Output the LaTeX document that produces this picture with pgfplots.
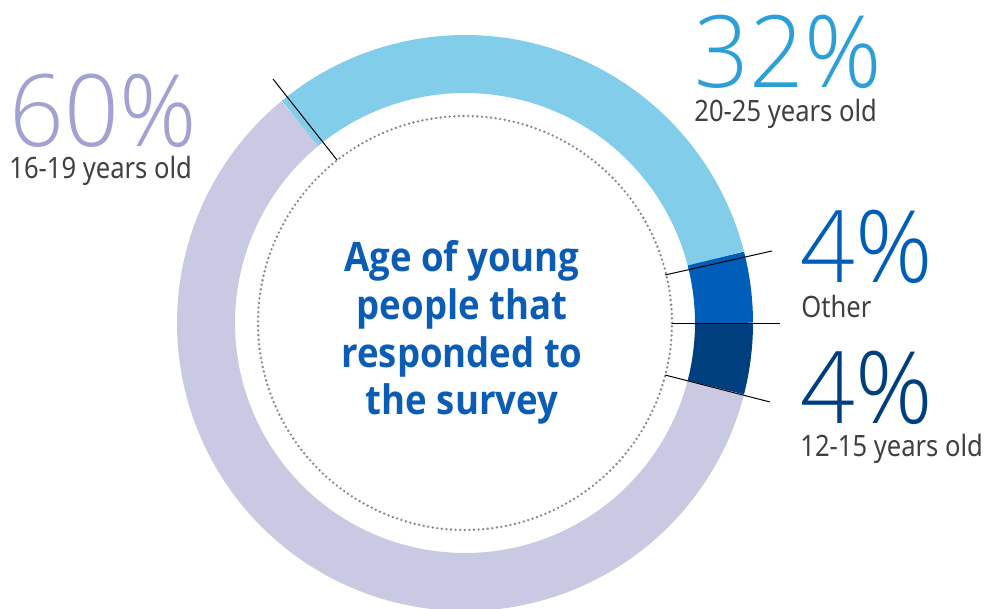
\documentclass[border=0pt]{standalone}
\usepackage{pgfplots}
\pgfplotsset{compat=1.18}
\usepgfplotslibrary{polar}
\usepackage{fontspec}
\setmainfont{Noto Sans}
\newfontfamily\labelfont{Noto Sans}[FakeStretch=0.87]
\IfFontExistsTF{Noto Sans Bold}{\newfontfamily\titlefont{Noto Sans Bold}[FakeStretch=0.9]}{%
 \IfFontExistsTF{Open Sans Bold}{\newfontfamily\titlefont{Open Sans Bold}[FakeStretch=0.9]}{%
  \newfontfamily\titlefont{Noto Sans}[FakeStretch=0.9, FakeBold=2.5]}}
\IfFontExistsTF{Noto Sans ExtraLight}{\newfontfamily\numfont{Noto Sans ExtraLight}[FakeStretch=0.96]}{%
 \IfFontExistsTF{Noto Sans Light}{\newfontfamily\numfont{Noto Sans Light}[FakeStretch=0.96]}{%
  \IfFontExistsTF{Open Sans Light}{\newfontfamily\numfont{Open Sans Light}[FakeStretch=0.96]}{%
   \IfFontExistsTF{Fira Sans ExtraLight}{\newfontfamily\numfont{Fira Sans ExtraLight}}{%
    \newfontfamily\numfont{Noto Sans}[FakeStretch=0.96]}}}}
\definecolor{cLav}{HTML}{C9C9E4}
\definecolor{cLight}{HTML}{82CEEA}
\definecolor{cOther}{HTML}{005EB8}
\definecolor{cDark}{HTML}{003F7D}
\definecolor{tLav}{HTML}{A3A1D3}
\definecolor{tLight}{HTML}{2C9FD9}
\definecolor{tTitle}{HTML}{0B5CB5}
\definecolor{tGray}{HTML}{404040}
\definecolor{cDot}{HTML}{858585}
\begin{document}
\begin{tikzpicture}[x=0.5pt,y=0.5pt]
\useasboundingbox (0,0) rectangle (984,609);
\begin{scope}
\clip (0,0) rectangle (984,609);
\begin{polaraxis}[
  at={(465,286)}, anchor=origin,
  hide axis, clip=false,
  scale only axis, width=300pt, height=300pt,
  xmin=0, xmax=360, ymin=0, ymax=300,
  xtick=\empty, ytick=\empty]
% shares: 12-15: 4%, Other: 4%, 20-25: 32%, 16-19: 60% (3.6 deg per %)
\addplot[draw=cLav, line width=29pt, domain=129.6:345.6, samples=150] {259};
\addplot[draw=cLight, line width=29pt, domain=14.4:129.6, samples=90] {259};
\addplot[draw=cOther, line width=29pt, domain=0:14.4, samples=15] {259};
\addplot[draw=cDark, line width=29pt, domain=-14.4:0, samples=15] {259};
\addplot[draw=cDot, line width=1.3pt, line cap=round, dash pattern=on 0pt off 2.3pt, domain=0:360, samples=240] {207};
\end{polaraxis}
\end{scope}
% leader lines
\draw[black, line width=0.5pt] (273,530) -- (337,449);
\draw[black, line width=0.5pt] (665,334) -- (772,358);
\draw[black, line width=0.5pt] (672,285) -- (780,285);
\draw[black, line width=0.5pt] (665,234) -- (770,207);
% percentages and labels
\node[anchor=base west, inner sep=0pt, text=tLav] at (9,462) {\numfont\fontsize{50}{50}\selectfont 60\%};
\node[anchor=base west, inner sep=0pt, text=tGray] at (9,430) {\labelfont\fontsize{14.7}{16}\selectfont 16-19 years old};
\node[anchor=base west, inner sep=0pt, text=tLight] at (694,521) {\numfont\fontsize{50}{50}\selectfont 32\%};
\node[anchor=base west, inner sep=0pt, text=tGray] at (694,487) {\labelfont\fontsize{14.7}{16}\selectfont 20-25 years old};
\node[anchor=base west, inner sep=0pt, text=cOther] at (800,326) {\numfont\fontsize{50}{50}\selectfont 4\%};
\node[anchor=base west, inner sep=0pt, text=tGray] at (801,291) {\labelfont\fontsize{14.7}{16}\selectfont Other};
\node[anchor=base west, inner sep=0pt, text=cDark] at (800,185) {\numfont\fontsize{50}{50}\selectfont 4\%};
\node[anchor=base west, inner sep=0pt, text=tGray] at (800,152) {\labelfont\fontsize{14.7}{16}\selectfont 12-15 years old};
% centre title
\node[anchor=base, inner sep=0pt, text=tTitle] at (462,337) {\titlefont\fontsize{20.3}{24}\selectfont Age of young};
\node[anchor=base, inner sep=0pt, text=tTitle] at (462,289) {\titlefont\fontsize{20.3}{24}\selectfont people that};
\node[anchor=base, inner sep=0pt, text=tTitle] at (462,241) {\titlefont\fontsize{20.3}{24}\selectfont responded to};
\node[anchor=base, inner sep=0pt, text=tTitle] at (462,194) {\titlefont\fontsize{20.3}{24}\selectfont the survey};
\end{tikzpicture}
\end{document}
